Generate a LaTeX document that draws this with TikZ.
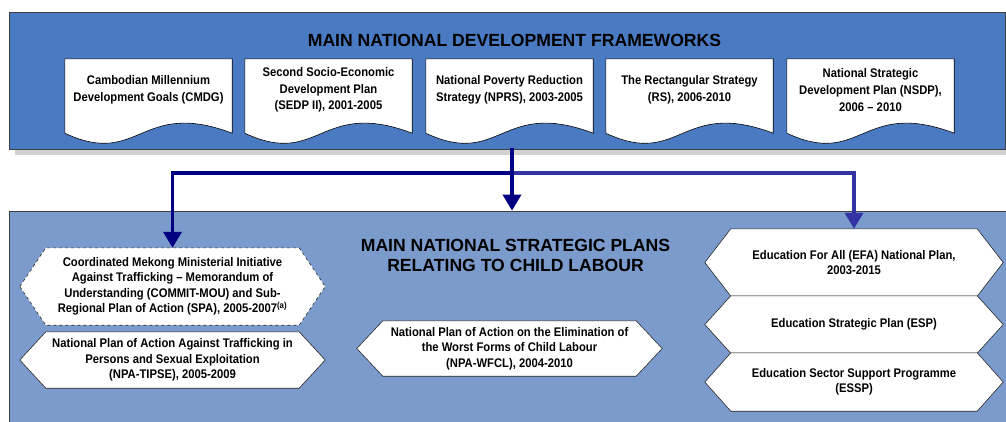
\documentclass[tikz,border=0pt]{standalone}
\usepackage{fontspec}
\setmainfont{Liberation Sans}
\newfontfamily\nar[FakeStretch=0.9,Ligatures=TeX]{Liberation Sans}
\usetikzlibrary{arrows.meta}
\pgfdeclarelayer{boxes}
\pgfdeclarelayer{shapes}
\pgfsetlayers{boxes,shapes,main}
\definecolor{topblue}{HTML}{4A7AC2}
\definecolor{botblue}{HTML}{7B9BCD}
\definecolor{navy}{HTML}{000080}
\definecolor{navylight}{HTML}{3333A3}
\definecolor{shadowgray}{HTML}{D2D2D2}
\newcommand\docpath[1]{%
  \path[docline] (#1.north west) -- (#1.north east) -- ([yshift=-12pt]#1.south east)
    .. controls ([shift={(75pt,23pt)}]#1.south west) and ([shift={(75pt,-47pt)}]#1.south west)
    .. ([yshift=-12pt]#1.south west) -- cycle;}
\newcommand\hexpath[2][]{%
  \path[hexline,#1] (#2.west) -- ([xshift=26pt]#2.north west) -- ([xshift=-26pt]#2.north east)
    -- (#2.east) -- ([xshift=-26pt]#2.south east) -- ([xshift=26pt]#2.south west) -- cycle;}
\begin{document}
\begin{tikzpicture}[x=1pt,y=-1pt,
  topbox/.style={draw=black!75, line width=0.8pt, fill=topblue, minimum width=996pt, minimum height=137pt, inner sep=0pt},
  botbox/.style={draw=black!75, line width=0.8pt, fill=botblue, minimum width=1003pt, minimum height=219pt, inner sep=0pt},
  ttl/.style={font=\fontsize{17.6}{20}\selectfont\bfseries, align=center, inner sep=0pt},
  doctext/.style={font=\nar\fontsize{12.5}{16.7}\selectfont\bfseries, align=center, minimum width=167pt, minimum height=62pt, inner sep=0pt},
  docline/.style={draw=black, line width=0.6pt, fill=white},
  hextext/.style={font=\nar\fontsize{12.5}{15.5}\selectfont\bfseries, align=center, inner sep=0pt},
  hexline/.style={draw=black!85, line width=0.6pt, fill=white},
  arr/.style={draw=navy, line width=3.6pt, -{Triangle[width=18pt,length=16pt]}},
  arrb/.style={draw=navylight, line width=3.6pt, -{Triangle[width=18pt,length=16pt]}}
]
\useasboundingbox (0,0) rectangle (1006,421);
\begin{pgfonlayer}{boxes}
  \fill[shadowgray] (15,149) rectangle (1006,155);
  \node[topbox] (top) at (507,80.5) {};
  \node[botbox] (bot) at (510.5,320.5) {};
\end{pgfonlayer}
\node[ttl, anchor=base] (ttl1) at (514.5,46) {MAIN NATIONAL DEVELOPMENT FRAMEWORKS};
\node[ttl] (ttl2) at (515.5,255.5) {MAIN NATIONAL STRATEGIC PLANS\\[-0.5pt]RELATING TO CHILD LABOUR};
% documents
\node[doctext] (d1) at (148.5,90) {Cambodian Millennium\\Development Goals (CMDG)};
\node[doctext] (d2) at (328.5,90) {Second Socio-Economic\\Development Plan\\(SEDP II), 2001-2005};
\node[doctext] (d3) at (509.5,90) {National Poverty Reduction\\Strategy (NPRS), 2003-2005};
\node[doctext] (d4) at (689.5,90) {The Rectangular Strategy\\(RS), 2006-2010};
\node[doctext] (d5) at (870.5,90) {National Strategic\\Development Plan (NSDP),\\2006 – 2010};
% hexagons
\node[hextext, minimum width=305pt, minimum height=77pt] (commit) at (172.5,286.5)
  {Coordinated Mekong Ministerial Initiative\\Against Trafficking – Memorandum of\\Understanding (COMMIT-MOU) and Sub-\\Regional Plan of Action (SPA), 2005-2007\textsuperscript{(a)}};
\node[hextext, minimum width=305pt, minimum height=56pt] (tipse) at (172.5,360)
  {National Plan of Action Against Trafficking in\\Persons and Sexual Exploitation\\(NPA-TIPSE), 2005-2009};
\node[hextext, minimum width=305pt, minimum height=55pt] (wfcl) at (509.5,348.5)
  {National Plan of Action on the Elimination of\\the Worst Forms of Child Labour\\(NPA-WFCL), 2004-2010};
\node[hextext, minimum width=298pt, minimum height=67pt] (efa) at (854,262.5)
  {Education For All (EFA) National Plan,\\2003-2015};
\node[hextext, minimum width=298pt, minimum height=57pt] (esp) at (854,324.5)
  {Education Strategic Plan (ESP)};
\node[hextext, minimum width=298pt, minimum height=58pt] (essp) at (854,382)
  {Education Sector Support Programme\\(ESSP)};
\begin{pgfonlayer}{shapes}
  \docpath{d1}\docpath{d2}\docpath{d3}\docpath{d4}\docpath{d5}
  \hexpath[dashed]{commit}
  \hexpath{tipse}\hexpath{wfcl}\hexpath{efa}\hexpath{esp}\hexpath{essp}
\end{pgfonlayer}
% connectors
\coordinate (src) at (512,148);
\coordinate (jn) at (512,173);
\draw[arrb] (jn) -| (efa.north);
\draw[arr] (src) -- (jn) -| (commit.north);
\draw[arr] (src) -- (src |- bot.north);
\end{tikzpicture}
\end{document}
